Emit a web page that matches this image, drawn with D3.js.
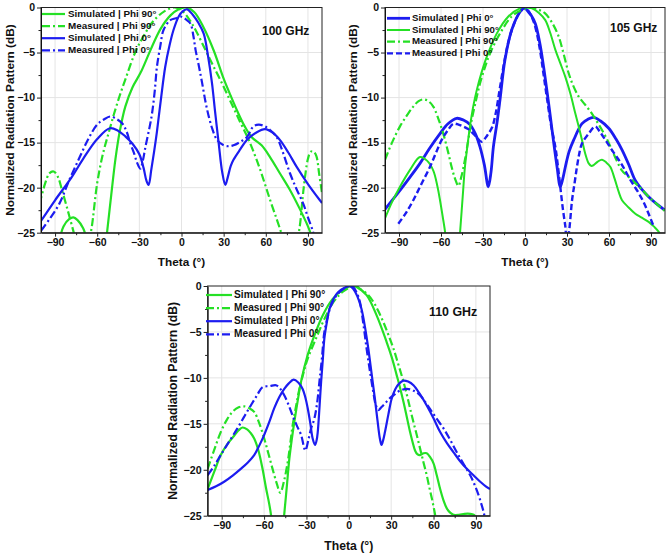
<!DOCTYPE html>
<html><head><meta charset="utf-8">
<script src="https://cdn.jsdelivr.net/npm/d3@7"></script>
<style>
body{margin:0;background:#fff;}
svg text{font-family:"Liberation Sans",Arial,sans-serif;font-weight:bold;fill:#111;}
</style></head>
<body><svg id="c" width="669" height="557"></svg>
<script>
// ---------- DATA ----------
const xTicks = [-90,-60,-30,0,30,60,90];
const yTicks = [0,-5,-10,-15,-20,-25];
const freqLabels = ["100 GHz","105 GHz","110 GHz"];

// 100 GHz
const sim90_100 = [[-87,-26],[-84,-24.3],[-80,-23.5],[-77,-23.3],[-74,-23.6],[-70,-24.5],[-67,-26],null,
 [-55,-28],[-53,-25],[-50,-20.8],[-47,-16.8],[-44,-13.8],[-40,-11],[-35,-8.9],[-29,-7.2],[-22,-4.7],[-15,-2.4],[-8,-0.9],[-2,-0.2],[3,0],[9,-0.5],[16,-2.3],[23,-4.8],[30,-7.9],[35,-9.8],[40,-11.6],[45,-13.2],[50,-14.4],[57,-15.3],[63,-16.6],[70,-18.4],[77,-20.2],[84,-22.3],[90,-24.3],[94,-26]];
const meas90_100 = [[-101,-21.8],[-97,-19.5],[-94,-18.4],[-91,-18.2],[-88,-18.8],[-85,-20.3],[-81,-22.5],[-77,-24.8],[-75,-26],null,
 [-66,-26],[-64,-24.5],[-60,-19.5],[-56,-16.3],[-52,-14],[-48,-11.8],[-44,-9.8],[-40,-8],[-33,-5],[-26,-2.9],[-20,-1.5],[-12,-0.4],[-5,0],[0,-0.3],[5,-1.2],[10,-2.5],[17,-4.7],[23,-6.6],[30,-8.8],[36,-10.8],[42,-12.8],[47,-14.4],[52,-16.3],[56,-18],[60,-19.9],[64,-21.8],[68,-23.6],[71,-25],[73,-26],null,
 [82,-26],[84,-24.5],[87,-20],[90,-16.8],[92,-16],[94,-16],[96,-16.5],[98,-18.5],[100,-20.6]];
const sim0_100 = [[-100,-23.7],[-90,-21.4],[-78,-18.8],[-70,-16.8],[-60,-14.6],[-51,-13.4],[-45,-13.7],[-40,-14.3],[-35,-15.1],[-30,-16.3],[-27,-17.8],[-25,-19.2],[-23.4,-19.7],[-21.5,-18],[-19.5,-16],[-17.5,-13.8],[-14.5,-10],[-11.6,-6.6],[-8.5,-4.2],[-5.7,-2.5],[-2,-1.0],[1,-0.4],[4,-0.2],[8,-0.8],[12,-1.7],[15.8,-2.9],[19,-5.5],[21.7,-8.4],[24,-11.7],[26.5,-15.1],[29,-18.3],[31.2,-19.7],[33,-18.8],[35,-17.6],[37,-16.9],[42,-15.7],[46.5,-14.7],[53,-13.9],[59.5,-13.5],[65,-13.9],[70,-14.7],[76,-16.1],[82,-17.7],[90,-19.6],[98.5,-21.4],[100,-21.7]];
const meas0_100 = [[-100,-24.8],[-94,-23.5],[-87,-21.8],[-80,-19.2],[-73,-16.8],[-66,-14.5],[-60,-13],[-55,-12.4],[-50.5,-12.1],[-46,-12.4],[-42,-12.9],[-39,-13.8],[-36.4,-15.1],[-33.5,-16.3],[-31.7,-17.2],[-29.3,-17.9],[-27.5,-17],[-25.7,-15.5],[-23,-13.5],[-21,-11.8],[-19,-9.2],[-17.5,-6.6],[-15,-4.2],[-12.8,-2.5],[-8,-1.4],[-4,-1.2],[-0.7,-1.0],[3,-1.3],[6.4,-1.8],[8.5,-3.2],[10,-4.7],[12.5,-6.6],[14.7,-8.4],[17,-10.4],[19.4,-12.1],[22,-13.5],[25.3,-14.7],[30,-15.3],[34,-15.4],[37,-15.3],[42,-14.9],[46.5,-14.4],[51.2,-13.2],[55,-13],[59.5,-13.2],[63,-13.6],[67.8,-14.4],[72,-16],[77.2,-18.4],[82,-20.2],[86.7,-21.8],[90,-23.3],[93.8,-25],[95,-26]];

// 105 GHz
const sim0_105 = [[-100,-22.4],[-89.3,-20.3],[-82,-18.8],[-75,-17.3],[-68,-15.6],[-60.7,-14],[-55,-12.9],[-48.8,-12.3],[-44,-12.5],[-39.3,-13],[-35.5,-14],[-32.1,-15.5],[-29,-17.5],[-26.2,-19.9],[-24.3,-18.3],[-22.6,-15.5],[-20,-12.8],[-17.9,-10.3],[-14.3,-5.8],[-9.5,-2.5],[-3.6,-0.5],[0,0],[1.4,-0.3],[4.5,-0.9],[7.4,-1.8],[10.5,-3.9],[13.3,-6.6],[15.8,-9.4],[18.1,-12.1],[20.5,-15],[22.9,-17.7],[25.2,-19.9],[27,-19],[28.8,-17.7],[31.5,-16],[34.8,-14.7],[40.7,-12.9],[45,-12.4],[49,-12.2],[54,-12.6],[59.8,-13.4],[65,-14.6],[69.3,-15.8],[74,-17.4],[78.8,-19.2],[83,-20.1],[88.3,-21],[94,-21.8],[100,-22.5]];
const sim90_105 = [[-100,-23.4],[-95,-21.6],[-89.3,-19.9],[-82,-18],[-75,-16.6],[-70,-17],[-65.5,-18.1],[-62.5,-19.9],[-60.7,-21.4],[-58.8,-23.2],[-57.1,-24.9],[-56,-26.5],null,
 [-47.2,-26.5],[-46.4,-25],[-44.5,-21],[-42.9,-17.7],[-41,-15.2],[-39.3,-13.2],[-37,-11],[-34.5,-9.2],[-31,-7.2],[-27.4,-5.5],[-20.2,-2.9],[-11.9,-1],[-3.6,-0.1],[1,0],[5,-0.1],[10,-0.6],[14.5,-1.4],[18,-2.8],[21.7,-4.7],[25,-6.1],[28.8,-7.7],[32.5,-9.6],[36,-11.8],[38.5,-13.3],[40.7,-14.7],[43,-16.2],[45.5,-17.3],[47.5,-17.6],[49,-17.5],[52,-17.1],[55,-16.9],[58,-17.2],[61,-17.7],[64,-19],[67,-20.5],[69.3,-21.4],[74,-22.2],[78.8,-22.9],[83,-23.3],[88.3,-23.8],[92,-24.3],[95.5,-24.9],[98,-25.8]];
const meas90_105 = [[-100,-16.9],[-95,-15],[-89.3,-13.2],[-84,-11.9],[-79.8,-11],[-76,-10.4],[-72.6,-10.2],[-69,-10.4],[-65.5,-11],[-62,-12.3],[-58.4,-14],[-55,-16],[-52.4,-17.7],[-50,-19],[-47.6,-19.8],[-45.5,-18.8],[-42.9,-16.9],[-40.5,-14.7],[-38.1,-12.5],[-35,-10.3],[-32.1,-8.4],[-28.5,-6.6],[-25,-5.1],[-17.9,-2.9],[-9.5,-1],[-1.2,-0.2],[4,0],[9,-0.2],[14,-0.6],[19,-1.6],[24,-3.2],[27.5,-5.1],[31.2,-7.3],[34.5,-8.7],[38.4,-9.9],[43,-10.8],[47.9,-11.8],[51.5,-12.7],[55,-13.6],[58.5,-14.6],[62.1,-15.8],[65.5,-17],[69.3,-18.1],[74,-18.8],[78.8,-19.5],[83.5,-20.2],[88.3,-21],[94,-21.8],[100,-22.6]];
const meas0_105 = [[-90.5,-24],[-85,-22.8],[-79.8,-21.4],[-74,-19.6],[-67.9,-17.7],[-63.5,-16.1],[-59.5,-14.7],[-55,-13.6],[-51.2,-12.9],[-47.5,-13],[-44.1,-13.2],[-40.5,-13.5],[-37,-14],[-34,-14.5],[-31,-14.9],[-27,-14.2],[-23.5,-13.3],[-21,-11.8],[-18,-9],[-15,-6.2],[-12,-3.9],[-8.5,-2.1],[-4,-0.6],[0,0],[3,-0.5],[6,-1.5],[8.5,-2.9],[11,-5],[13.5,-7.7],[16,-10.4],[18.5,-13],[21.7,-15.5],[23.5,-17.6],[25.2,-19.9],[27,-22.3],[28.8,-24.3],[29.8,-25.6],[31,-25.2],[33.6,-21.4],[35.5,-19.4],[37.1,-17.7],[38.8,-16.2],[40.7,-15.1],[45.5,-14],[50.2,-13.2],[53.5,-13.8],[57.4,-14.7],[62,-15.8],[66.9,-16.9],[70.5,-17.8],[74,-18.8],[77.5,-19.7],[81.2,-20.6],[85,-21.7],[88.3,-22.9],[91.9,-24.3]];

// 110 GHz
const sim90_110 = [[-100,-22.1],[-95,-20.1],[-90.7,-18.4],[-86,-17.2],[-81.2,-16.3],[-78,-15.7],[-75.3,-15.4],[-72,-15.6],[-69.5,-16],[-67,-16.6],[-64,-17.9],[-61.1,-19.9],[-58.5,-22.1],[-56.5,-23.6],[-55.2,-24.8],[-54.3,-26],null,
 [-46.5,-26],[-45.7,-24.8],[-44,-22],[-42.1,-18.8],[-40.3,-16.6],[-38.6,-14.8],[-36.2,-12.5],[-33.8,-10.4],[-29.1,-7.5],[-24.4,-5.4],[-18.5,-3.2],[-11.4,-1.4],[-3.1,-0.3],[3,0],[5.5,-0.1],[12.6,-1],[19.7,-3.2],[26.8,-6.1],[30.5,-7.8],[33.9,-9.7],[36.5,-11.2],[38.7,-12.6],[41,-14.2],[43.4,-15.9],[45.2,-17],[46.9,-17.9],[48.5,-18.3],[50.5,-18.4],[53,-18.2],[55.2,-18.2],[57.5,-18.6],[60,-19.3],[62.3,-20.6],[64.7,-22.1],[67,-23.3],[69.4,-24.2],[72,-24.7],[74.2,-24.9],[78,-24.9],[82,-24.8],[86,-24.8],[88.4,-24.9],[90,-25.2],[92,-26]];
const meas90_110 = [[-100,-19.9],[-95,-17.7],[-90.7,-15.9],[-86.5,-14.6],[-82.4,-13.7],[-78,-13.2],[-74.1,-13.1],[-70.5,-13.3],[-67,-13.7],[-63.5,-14.9],[-59.9,-16.6],[-57,-18.2],[-54,-19.9],[-51,-21.5],[-48.5,-22.5],[-46,-21.3],[-43.3,-19.2],[-41.5,-17.2],[-39.8,-15.2],[-37.5,-13.2],[-35,-11.2],[-32,-9.4],[-29.1,-7.9],[-23.2,-5.7],[-17.3,-3.6],[-10.2,-1.6],[-3.1,-0.5],[5,0],[7.8,-0.3],[12.5,-0.8],[17.3,-1.7],[20.8,-2.7],[24.4,-3.9],[28,-5.3],[31.6,-6.8],[35.2,-8.6],[38.7,-10.4],[41.7,-12.2],[44.6,-14.1],[47.6,-15.9],[50.5,-17.7],[52.9,-19.2],[55.2,-20.6],[57,-21.9],[58.8,-23.1],[60,-24],[61.1,-24.9],[62,-26]];
const sim0_110 = [[-100,-22.2],[-94,-21.8],[-88.3,-21.3],[-82,-20.6],[-76.5,-19.9],[-71.5,-19.2],[-67,-18.4],[-63.5,-17.4],[-59.9,-16.2],[-56.3,-14.8],[-52.8,-13.3],[-49.3,-12.1],[-45.7,-11.2],[-42.5,-10.6],[-39.1,-10.2],[-35.8,-10.5],[-32.7,-11.2],[-30.8,-12.1],[-29.1,-13.3],[-27.3,-14.9],[-25.6,-16.6],[-23.9,-17.3],[-22.8,-16.8],[-22,-15.9],[-20.8,-13.3],[-19.6,-10.4],[-18.4,-8],[-17.3,-5.7],[-15.5,-3.9],[-13.7,-2.5],[-10.8,-1.4],[-7.8,-0.7],[-1.8,-0.1],[0.5,0],[3.1,-0.3],[6,-1.1],[9,-2.5],[11.5,-4.5],[13.8,-6.8],[16.2,-9.6],[18.5,-12.3],[20.3,-14.6],[22,-16.6],[23.2,-17.3],[24.3,-16.8],[25.6,-15.9],[28,-14],[30.3,-12.3],[33,-11.2],[35.8,-10.6],[38.7,-10.3],[42,-10.4],[45.8,-10.8],[50.5,-11.8],[55.2,-13],[60,-14.4],[64.7,-15.9],[69.5,-17.1],[74.2,-18.1],[79,-19.1],[83.6,-19.9],[88.3,-20.6],[93.1,-21.3],[97,-21.8],[100,-22.1]];
const meas0_110 = [[-100,-20.6],[-95,-19.5],[-90.7,-18.4],[-85,-17],[-78.9,-15.5],[-74,-14.2],[-69.4,-13],[-65,-11.9],[-61.1,-11],[-56,-10.9],[-51.6,-10.8],[-48.5,-11.2],[-45.7,-11.9],[-42.5,-13],[-39.8,-14.1],[-36.8,-15.2],[-33.8,-16.2],[-30.8,-17.9],[-28.7,-16.8],[-26.7,-15.5],[-24.5,-14.5],[-22.5,-12.8],[-20.8,-10.4],[-19,-7.8],[-17.3,-5],[-15,-3.4],[-12.5,-2.1],[-9,-1.1],[-5.4,-0.5],[0,0],[3.1,-0.1],[5.5,-0.7],[7.8,-1.7],[10.2,-4],[12.6,-6.8],[15,-9.3],[17.3,-11.5],[19,-12.9],[20.9,-13.5],[23,-13.2],[25.6,-12.8],[28.5,-12.3],[31.6,-11.9],[36,-11.4],[41,-11.2],[46,-11.4],[50.5,-11.9],[54,-12.6],[57.6,-13.4],[62,-14.4],[67.1,-15.5],[72,-16.8],[76.5,-18.1],[81,-19.3],[86,-20.6],[89,-21.6],[92,-22.8],[94,-23.8],[95.5,-24.6],[97,-25.8]];

// ---------- STYLES ----------
const GREEN = "#25e025", BLUE = "#1c1cf0";
const DASHDOT = "8,3,2,3", DASHED = "6,3";

const panels = [
  {id:0, box:{l:41,r:322,t:7.5,b:232.7}, ylabX:11, thetaY:263, tickFs:10.5, legFs:9.9, titleFs:11.8,
   freq:{x:262,y:32}, leg:{x0:42,x1:65,tx:68,y0:14,dy:12.1},
   series:[
    {name:"Simulated | Phi 90°", data:sim90_100, color:GREEN, dash:null, w:2.2},
    {name:"Measured | Phi 90°", data:meas90_100, color:GREEN, dash:DASHDOT, w:2.2},
    {name:"Simulated | Phi 0°", data:sim0_100, color:BLUE, dash:null, w:2.2},
    {name:"Measured | Phi 0°", data:meas0_100, color:BLUE, dash:DASHDOT, w:2.2}]},
  {id:1, box:{l:385,r:665,t:7.5,b:232.7}, ylabX:354, thetaY:263, tickFs:10.5, legFs:9.7, titleFs:11.8,
   freq:{x:610,y:29}, leg:{x0:387,x1:410,tx:412,y0:18.3,dy:11.7},
   series:[
    {name:"Simulated | Phi 0°", data:sim0_105, color:BLUE, dash:null, w:2.8},
    {name:"Simulated | Phi 90°", data:sim90_105, color:GREEN, dash:null, w:2},
    {name:"Measured | Phi 90°", data:meas90_105, color:GREEN, dash:DASHDOT, w:2.2},
    {name:"Measured | Phi 0°", data:meas0_105, color:BLUE, dash:DASHED, w:2.4}]},
  {id:2, box:{l:207.6,r:490,t:286,b:515.7}, ylabX:174, thetaY:547, tickFs:10.6, legFs:10.2, titleFs:12.2,
   freq:{x:429,y:313}, leg:{x0:206,x1:232,tx:234,y0:295,dy:13.1},
   series:[
    {name:"Simulated | Phi 90°", data:sim90_110, color:GREEN, dash:null, w:2.2},
    {name:"Measured | Phi 90°", data:meas90_110, color:GREEN, dash:DASHDOT, w:2.2},
    {name:"Simulated | Phi 0°", data:sim0_110, color:BLUE, dash:null, w:2.2},
    {name:"Measured | Phi 0°", data:meas0_110, color:BLUE, dash:DASHDOT, w:2.2}]}
];

const svg = d3.select("#c");
const fmt = d => d < 0 ? "\u2212" + Math.abs(d) : String(d);

panels.forEach((p, pi) => {
  const b = p.box;
  const x = d3.scaleLinear().domain([-100,100]).range([b.l,b.r]);
  const y = d3.scaleLinear().domain([-25,0]).range([b.b,b.t]);
  const g = svg.append("g");

  // grid
  g.append("g").selectAll("line").data(xTicks).join("line")
    .attr("x1",d=>x(d)).attr("x2",d=>x(d)).attr("y1",b.t).attr("y2",b.b)
    .attr("stroke","#e4e4e4").attr("stroke-width",1);
  g.append("g").selectAll("line").data(yTicks.filter(v=>v>-25&&v<0)).join("line")
    .attr("y1",d=>y(d)).attr("y2",d=>y(d)).attr("x1",b.l).attr("x2",b.r)
    .attr("stroke","#e4e4e4").attr("stroke-width",1);

  // clip
  const cid = "clip"+pi;
  svg.append("defs").append("clipPath").attr("id",cid).append("rect")
    .attr("x",b.l).attr("y",b.t).attr("width",b.r-b.l).attr("height",b.b-b.t);

  const line = d3.line().defined(d=>d!==null).x(d=>x(d[0])).y(d=>y(d[1]))
    .curve(d3.curveCatmullRom.alpha(0.5));
  const lg = g.append("g").attr("clip-path",`url(#${cid})`);
  p.series.forEach(s=>{
    lg.append("path").attr("d",line(s.data)).attr("fill","none")
      .attr("stroke",s.color).attr("stroke-width",s.w)
      .attr("stroke-dasharray",s.dash).attr("stroke-linejoin","round");
  });

  // axes
  const minorX = d3.range(-90,100,15).filter(v=>v%30!==0);
  const minorY = d3.range(-22.5,0,5);
  const ax = g.append("g").attr("transform",`translate(0,${b.b})`)
    .call(d3.axisBottom(x).tickValues(xTicks).tickFormat(fmt).tickSize(4).tickPadding(2).tickSizeOuter(0));
  g.append("g").attr("transform",`translate(0,${b.b})`)
    .call(d3.axisBottom(x).tickValues(minorX).tickFormat("").tickSize(2.5).tickSizeOuter(0))
    .select(".domain").remove();
  const ay = g.append("g").attr("transform",`translate(${b.l},0)`)
    .call(d3.axisLeft(y).tickValues(yTicks).tickFormat(fmt).tickSize(4).tickPadding(2).tickSizeOuter(0));
  g.append("g").attr("transform",`translate(${b.l},0)`)
    .call(d3.axisLeft(y).tickValues(minorY).tickFormat("").tickSize(2.5).tickSizeOuter(0))
    .select(".domain").remove();
  [ax,ay].forEach(a=>{
    a.selectAll("text").style("font-size",p.tickFs+"px").style("font-family",'"Liberation Sans",Arial,sans-serif').style("font-weight","bold").attr("fill","#111");
  });
  g.selectAll(".tick line").attr("stroke","#222");
  // frame
  g.append("rect").attr("x",b.l).attr("y",b.t).attr("width",b.r-b.l).attr("height",b.b-b.t)
    .attr("fill","none").attr("stroke","#222").attr("stroke-width",1);

  // titles
  g.append("text").attr("x",(b.l+b.r)/2).attr("y",p.thetaY).attr("text-anchor","middle")
    .attr("dominant-baseline","middle").style("font-size",p.titleFs+"px").text("Theta (°)");
  g.append("text").attr("transform",`translate(${p.ylabX},${(b.t+b.b)/2}) rotate(-90)`)
    .attr("text-anchor","middle").attr("dominant-baseline","middle")
    .style("font-size",p.titleFs+"px").text("Normalized Radiation Pattern (dB)");
  g.append("text").attr("x",p.freq.x).attr("y",p.freq.y).attr("dominant-baseline","middle")
    .style("font-size",(p.titleFs+0.2)+"px").text(freqLabels[pi]);

  // legend
  const L = p.leg;
  p.series.forEach((s,i)=>{
    const yy = L.y0 + i*L.dy;
    g.append("line").attr("x1",L.x0).attr("x2",L.x1).attr("y1",yy).attr("y2",yy)
      .attr("stroke",s.color).attr("stroke-width",s.w).attr("stroke-dasharray",s.dash);
    g.append("text").attr("x",L.tx).attr("y",yy).attr("dominant-baseline","middle")
      .style("font-size",p.legFs+"px").text(s.name);
  });
});
</script></body></html>
